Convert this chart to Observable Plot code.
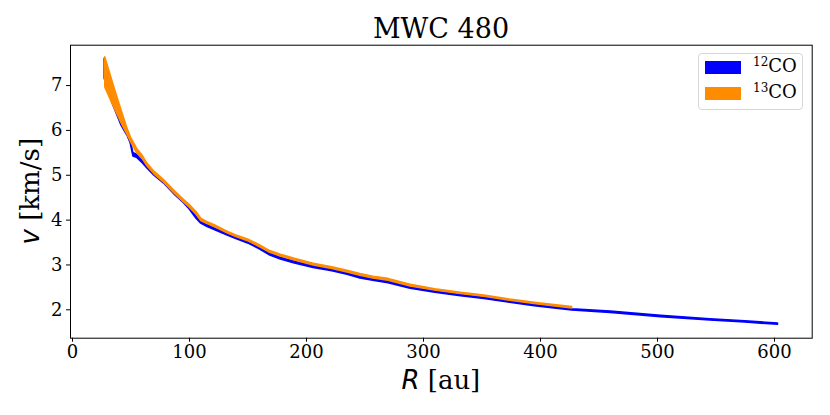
<!DOCTYPE html>
<html>
<head>
<meta charset="utf-8">
<script src="https://cdn.jsdelivr.net/npm/d3@7"></script>
<script src="https://cdn.jsdelivr.net/npm/@observablehq/plot@0.6"></script>
<style>
  body { margin: 0; background: #fff; }
  #wrap { position: relative; width: 830px; height: 415px; font-family: "DejaVu Serif", serif; }
  #title { height: 40px; box-sizing: border-box; padding-top: 15px; padding-left: 52px; line-height: 27px; font-size: 27px; text-align: center; color: #000; }
  #legend { position: absolute; left: 698px; top: 53px; width: 105px; height: 57px; box-sizing: border-box; border: 1px solid #d6d6d6; border-radius: 4px; background: rgba(255,255,255,0.8); font-size: 18px; }
  .row { position: absolute; left: 0; height: 20px; }
  .sw { position: absolute; left: 6px; width: 36px; height: 13px; }
  .lab { position: absolute; left: 54px; top: -6px; white-space: nowrap; line-height: 22px; }
  .lab sup { font-size: 12px; vertical-align: 0; position: relative; top: -6px; }
</style>
</head>
<body>
<div id="wrap">
  <div id="title">MWC 480</div>
  <div id="chart"></div>
  <div id="legend"></div>
</div>
<script>
// ----- data -----
const seriesNames = ["12CO", "13CO"];
const seriesColors = ["#0000ff", "#ff8c00"];

const blueR  = [27.5, 35, 42, 47, 49.6, 52, 55, 60, 64, 70, 78, 88, 95, 100, 106, 110, 115, 122, 132, 140, 150, 160, 169, 178, 190, 206, 222, 235, 246, 257, 270, 289, 310, 332, 352, 374, 395, 427, 460, 503, 545, 575, 603];
const blueLo = [7.15, 6.55, 6.1, 5.88, 5.72, 5.42, 5.39, 5.27, 5.15, 4.99, 4.82, 4.55, 4.38, 4.24, 4.03, 3.92, 3.85, 3.77, 3.66, 3.58, 3.48, 3.35, 3.21, 3.12, 3.03, 2.93, 2.86, 2.78, 2.70, 2.65, 2.59, 2.47, 2.38, 2.30, 2.24, 2.16, 2.08, 1.985, 1.93, 1.835, 1.762, 1.715, 1.665];
const blueHi = [7.60, 6.85, 6.3, 5.98, 5.80, 5.50, 5.46, 5.33, 5.20, 5.04, 4.87, 4.60, 4.43, 4.29, 4.08, 3.96, 3.89, 3.81, 3.70, 3.62, 3.52, 3.39, 3.25, 3.16, 3.07, 2.97, 2.90, 2.82, 2.74, 2.69, 2.63, 2.50, 2.41, 2.33, 2.27, 2.19, 2.11, 2.015, 1.96, 1.865, 1.792, 1.745, 1.695];

const orangeR  = [28, 33, 38, 43, 47, 50, 55, 60, 64, 70, 78, 88, 95, 100, 106, 110, 115, 122, 132, 140, 150, 160, 169, 178, 190, 206, 222, 235, 246, 257, 270, 289, 310, 332, 352, 374, 395, 427];
const orangeLo = [6.96, 6.66, 6.38, 6.10, 5.90, 5.74, 5.50, 5.36, 5.20, 5.02, 4.84, 4.57, 4.40, 4.28, 4.12, 3.98, 3.92, 3.84, 3.71, 3.62, 3.53, 3.40, 3.27, 3.19, 3.10, 2.99, 2.91, 2.83, 2.76, 2.70, 2.65, 2.52, 2.43, 2.35, 2.29, 2.20, 2.13, 2.03];
const orangeHi = [7.63, 7.20, 6.77, 6.36, 6.04, 5.84, 5.60, 5.43, 5.26, 5.08, 4.90, 4.63, 4.46, 4.34, 4.18, 4.03, 3.96, 3.88, 3.75, 3.66, 3.57, 3.44, 3.31, 3.23, 3.14, 3.03, 2.95, 2.87, 2.80, 2.74, 2.69, 2.56, 2.46, 2.38, 2.32, 2.23, 2.16, 2.06];

const xTicks = [0, 100, 200, 300, 400, 500, 600];
const yTicks = [2, 3, 4, 5, 6, 7];

// ----- tables built from the arrays -----
const blue = blueR.map((r, i) => ({R: r, lo: blueLo[i], hi: blueHi[i]}));
const orange = orangeR.map((r, i) => ({R: r, lo: orangeLo[i], hi: orangeHi[i]}));

const W = 830, H = 375;
const mL = 70, mR = 18.3, mT = 4.7, mB = 77.3;

const chart = Plot.plot({
  width: W, height: H,
  marginLeft: mL, marginRight: mR, marginTop: mT, marginBottom: mB,
  style: {fontFamily: "DejaVu Serif", fontSize: "18px", color: "#000", background: "#fff"},
  x: {domain: [-1.71, 632.2], ticks: xTicks, tickSize: 4, tickPadding: 3, tickFormat: d3.format("d"), label: null},
  y: {domain: [1.367, 7.9], ticks: yTicks, tickSize: 4, tickPadding: 4, tickFormat: d3.format("d"), label: null},
  marks: [
    Plot.areaY(blue, {x: "R", y1: "lo", y2: "hi", fill: seriesColors[0], stroke: seriesColors[0], strokeWidth: 1.5}),
    Plot.areaY(orange, {x: "R", y1: "lo", y2: "hi", fill: seriesColors[1], stroke: seriesColors[1], strokeWidth: 1.5}),
    Plot.frame({stroke: "#000", strokeWidth: 1})
  ]
});
document.getElementById("chart").appendChild(chart);

// axis labels: italic sans math symbol + serif unit
const svg = d3.select(chart);
const xl = svg.append("text")
  .attr("x", (mL + (W - mR)) / 2).attr("y", 349)
  .attr("text-anchor", "middle").attr("font-size", 26).attr("fill", "#000");
xl.append("tspan").attr("font-family", "DejaVu Sans").attr("font-style", "italic").text("R");
xl.append("tspan").attr("font-family", "DejaVu Serif").text(" [au]");

const cy = (mT + (H - mB)) / 2;
const yl = svg.append("text")
  .attr("transform", `translate(38.5,${cy}) rotate(-90)`)
  .attr("text-anchor", "middle").attr("font-size", 26).attr("fill", "#000");
yl.append("tspan").attr("font-family", "DejaVu Sans").attr("font-style", "italic").text("v");
yl.append("tspan").attr("font-family", "DejaVu Serif").text(" [km/s]");

// legend
const leg = document.getElementById("legend");
seriesNames.forEach((name, i) => {
  const row = document.createElement("div");
  row.className = "row";
  row.style.top = (7 + i * 26) + "px";
  row.style.width = "100%";
  const sw = document.createElement("div");
  sw.className = "sw";
  sw.style.background = seriesColors[i];
  const lab = document.createElement("div");
  lab.className = "lab";
  lab.innerHTML = "<sup>" + name.slice(0, 2) + "</sup>" + name.slice(2);
  row.appendChild(sw);
  row.appendChild(lab);
  leg.appendChild(row);
});
</script>
</body>
</html>
